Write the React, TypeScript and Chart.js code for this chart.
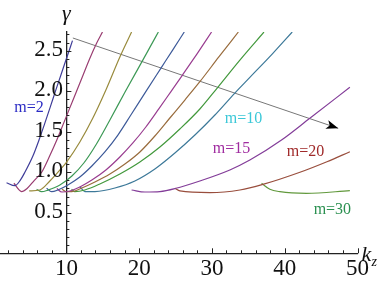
import React, { useEffect, useRef } from "react";
import { Chart, registerables } from "chart.js";

Chart.register(...registerables);

// ---- axis ticks ----
const xTicks = [10, 20, 30, 40, 50];
const yTicks = [0.5, 1.0, 1.5, 2.0, 2.5];
const xMinorTicks = [2, 4, 6, 8, 10, 12, 14, 16, 18, 20, 22, 24, 26, 28, 30, 32, 34, 36, 38, 40, 42, 44, 46, 48, 50];
const yMinorTicks = [0.1, 0.2, 0.3, 0.4, 0.5, 0.6, 0.7, 0.8, 0.9, 1.0, 1.1, 1.2, 1.3, 1.4, 1.5, 1.6, 1.7, 1.8, 1.9, 2.0, 2.1, 2.2, 2.3, 2.4, 2.5, 2.6, 2.7];

// ---- series (k_z, gamma) ----
const m2X = [1.78, 2.92, 3.65, 4.30, 5.40, 6.25, 7.02, 7.77, 8.50, 9.25, 10.0, 10.84];
const m2Y = [0.871, 0.834, 0.9, 1.0, 1.2, 1.4, 1.6, 1.8, 2.0, 2.2, 2.4, 2.623];

const m3X = [2.79, 3.84, 4.6, 5.6, 6.6, 7.7, 8.7, 9.6, 10.5, 11.4, 12.3, 13.2, 14.2, 14.96];
const m3Y = [0.864, 0.762, 0.8, 0.9, 1.0, 1.2, 1.4, 1.6, 1.8, 2.0, 2.2, 2.4, 2.6, 2.73];

const m4X = [4.89, 6.36, 7.73, 9.11, 10.03, 11.85, 13.64, 15.43, 17.35, 18.96];
const m4Y = [0.769, 0.781, 0.892, 1.028, 1.126, 1.373, 1.669, 2.015, 2.422, 2.73];

const m5X = [5.91, 6.59, 7.46, 9.11, 10.76, 12.40, 14.05, 15.98, 18.04, 20.33, 21.47, 22.64];
const m5Y = [0.79, 0.76, 0.78, 0.843, 0.954, 1.114, 1.336, 1.645, 1.986, 2.355, 2.54, 2.73];

const m6X = [7.28, 7.97, 8.83, 10.21, 11.85, 13.50, 15.29, 17.08, 18.86, 20.87, 23.0, 24.6, 26.2];
const m6Y = [0.802, 0.76, 0.781, 0.843, 0.941, 1.077, 1.25, 1.459, 1.706, 1.989, 2.285, 2.507, 2.73];

const m7X = [8.69, 9.38, 10.48, 11.85, 13.50, 15.43, 17.35, 19.14, 20.92, 22.7, 24.32, 25.95, 28.0, 29.95];
const m7Y = [0.799, 0.756, 0.769, 0.818, 0.903, 1.028, 1.188, 1.361, 1.558, 1.781, 1.989, 2.199, 2.467, 2.73];

const m8X = [9.38, 9.93, 10.76, 12.13, 13.92, 15.98, 18.04, 20.10, 22.16, 24.22, 26.28, 28.34, 30.95, 33.63];
const m8Y = [0.793, 0.762, 0.762, 0.806, 0.88, 0.978, 1.101, 1.25, 1.447, 1.669, 1.891, 2.117, 2.422, 2.73];

const m9X = [10.71, 11.17, 12.54, 14.60, 17.35, 20.10, 22.85, 25.59, 28.34, 30.72, 33.84, 37.15];
const m9Y = [0.79, 0.76, 0.781, 0.855, 0.978, 1.126, 1.311, 1.533, 1.78, 2.039, 2.384, 2.73];

const m10X = [11.85, 12.54, 13.92, 16.67, 19.41, 22.16, 24.91, 27.66, 30.41, 33.15, 35.21, 38.37, 41.03];
const m10Y = [0.822, 0.76, 0.762, 0.806, 0.892, 1.04, 1.237, 1.459, 1.706, 1.977, 2.17, 2.467, 2.73];

const m15X = [18.96, 20.79, 22.85, 24.91, 28.34, 32.46, 35.21, 39.61, 43.45, 48.95];
const m15Y = [0.781, 0.756, 0.762, 0.799, 0.892, 1.028, 1.15, 1.40, 1.665, 2.048];

const m20X = [24.91, 25.60, 29.72, 33.84, 37.00, 42.09, 45.80, 48.95];
const m20Y = [0.802, 0.769, 0.748, 0.781, 0.85, 1.0, 1.13, 1.253];

const m30X = [36.82, 37.96, 39.34, 43.00, 48.95];
const m30Y = [0.864, 0.79, 0.76, 0.74, 0.772];

// arrow (start, tip)
const arrowX = [10.89, 47.35];
const arrowY = [2.656, 1.542];

// curve labels
const labelText = ["m=2", "m=10", "m=15", "m=20", "m=30"];
const labelX = [4.86, 34.35, 32.7, 42.85, 46.55];
const labelY = [1.80, 1.658, 1.293, 1.25, 0.538];
const labelColors = ["#2b2bc4", "#3cc8d8", "#a02ca0", "#a02a2a", "#2a9050"];

const seriesColors = [
  "rgb(63,61,153)",
  "rgb(153,61,113)",
  "rgb(153,139,61)",
  "rgb(61,153,86)",
  "rgb(61,90,153)",
  "rgb(153,61,144)",
  "rgb(153,108,61)",
  "rgb(67,153,61)",
  "rgb(61,121,153)",
  "rgb(131,61,153)",
  "rgb(153,78,61)",
  "rgb(98,153,61)",
];

const seriesList = [
  [m2X, m2Y], [m3X, m3Y], [m4X, m4Y], [m5X, m5Y], [m6X, m6Y], [m7X, m7Y],
  [m8X, m8Y], [m9X, m9Y], [m10X, m10Y], [m15X, m15Y], [m20X, m20Y], [m30X, m30Y],
];

const zip = (xs: number[], ys: number[]) => xs.map((x, i) => ({ x, y: ys[i] }));

const SERIF = '"Liberation Serif", "Times New Roman", serif';

const overlay = {
  id: "overlay",
  afterDatasetsDraw(chart: any) {
    const { ctx, chartArea } = chart;
    const xs = chart.scales.x;
    const ys = chart.scales.y;
    const axisX = xs.getPixelForValue(10);
    const axisY = ys.getPixelForValue(0);
    ctx.save();

    // tick marks (inside)
    ctx.strokeStyle = "#222";
    ctx.lineWidth = 1;
    ctx.beginPath();
    for (const v of xMinorTicks) {
      const p = Math.round(xs.getPixelForValue(v)) + 0.5;
      const len = xTicks.includes(v) ? 5 : 3;
      ctx.moveTo(p, axisY);
      ctx.lineTo(p, axisY - len);
    }
    for (let i = 0; i < yMinorTicks.length; i++) {
      const v = yMinorTicks[i];
      const p = Math.round(ys.getPixelForValue(v)) + 0.5;
      const major = yTicks.some((t) => Math.abs(t - v) < 1e-6);
      const len = major ? 5 : 3;
      ctx.moveTo(axisX, p);
      ctx.lineTo(axisX + len, p);
    }
    ctx.stroke();

    // y tick labels
    ctx.fillStyle = "#111";
    ctx.font = `23px ${SERIF}`;
    ctx.textAlign = "right";
    ctx.textBaseline = "middle";
    for (const v of yTicks) {
      ctx.fillText(v.toFixed(1), axisX - 3.5, ys.getPixelForValue(v) - 1);
    }

    // axis titles
    ctx.textAlign = "center";
    ctx.textBaseline = "alphabetic";
    ctx.font = `italic 22px ${SERIF}`;
    ctx.fillText("γ", axisX, chartArea.top - 12);
    const right = xs.getPixelForValue(50);
    ctx.textAlign = "left";
    ctx.fillText("k", right + 4, axisY + 8);
    ctx.font = `italic 14px ${SERIF}`;
    ctx.fillText("z", right + 14, axisY + 13);

    // arrow head
    const x0 = xs.getPixelForValue(arrowX[0]);
    const y0 = ys.getPixelForValue(arrowY[0]);
    const x1 = xs.getPixelForValue(arrowX[1]);
    const y1 = ys.getPixelForValue(arrowY[1]);
    const ang = Math.atan2(y1 - y0, x1 - x0);
    const L = 12;
    const W = 4.5;
    ctx.fillStyle = "#000";
    ctx.beginPath();
    ctx.moveTo(x1, y1);
    ctx.lineTo(x1 - L * Math.cos(ang) + W * Math.sin(ang), y1 - L * Math.sin(ang) - W * Math.cos(ang));
    ctx.lineTo(x1 - L * 0.75 * Math.cos(ang), y1 - L * 0.75 * Math.sin(ang));
    ctx.lineTo(x1 - L * Math.cos(ang) - W * Math.sin(ang), y1 - L * Math.sin(ang) + W * Math.cos(ang));
    ctx.closePath();
    ctx.fill();

    // curve labels
    ctx.font = `16px ${SERIF}`;
    ctx.textAlign = "center";
    ctx.textBaseline = "middle";
    for (let i = 0; i < labelText.length; i++) {
      ctx.fillStyle = labelColors[i];
      ctx.fillText(labelText[i], xs.getPixelForValue(labelX[i]), ys.getPixelForValue(labelY[i]));
    }
    ctx.restore();
  },
};

export default function App() {
  const ref = useRef<HTMLCanvasElement | null>(null);
  useEffect(() => {
    document.body.style.margin = "0";
    const canvas = ref.current;
    if (!canvas) return;
    const datasets: any[] = seriesList.map(([xs, ys], i) => ({
      data: zip(xs, ys),
      borderColor: seriesColors[i],
      borderWidth: 1.2,
      pointRadius: 0,
      cubicInterpolationMode: "monotone",
      fill: false,
    }));
    datasets.push({
      data: zip(arrowX, arrowY),
      borderColor: "#777",
      borderWidth: 1,
      pointRadius: 0,
      fill: false,
    });
    const chart = new Chart(canvas, {
      type: "line",
      data: { datasets },
      options: {
        animation: false,
        responsive: true,
        maintainAspectRatio: false,
        parsing: false as any,
        layout: { padding: { left: 0, right: 25.5, top: 32, bottom: 0 } },
        plugins: { legend: { display: false }, tooltip: { enabled: false } },
        scales: {
          x: {
            type: "linear",
            min: 0.88,
            max: 50,
            afterBuildTicks: (s: any) => {
              s.ticks = xTicks.map((v) => ({ value: v }));
            },
            afterFit: (s: any) => {
              s.height = 30.7;
            },
            grid: { display: true, drawOnChartArea: false, drawTicks: false },
            border: { display: true, color: "#222", width: 1.3 },
            ticks: {
              autoSkip: false,
              maxRotation: 0,
              padding: 2,
              color: "#111",
              font: { family: SERIF, size: 23 },
            },
          },
          y: {
            type: "linear",
            min: 0,
            max: 2.73,
            position: { x: 10 } as any,
            afterBuildTicks: (s: any) => {
              s.ticks = yTicks.map((v) => ({ value: v }));
            },
            grid: { display: true, drawOnChartArea: false, drawTicks: false },
            border: { display: true, color: "#222", width: 1.3 },
            ticks: { display: false },
          },
        },
      },
      plugins: [overlay],
    });
    return () => chart.destroy();
  }, []);
  return (
    <div style={{ position: "fixed", left: 0, top: 0, width: 383, height: 284 }}>
      <canvas ref={ref} />
    </div>
  );
}
